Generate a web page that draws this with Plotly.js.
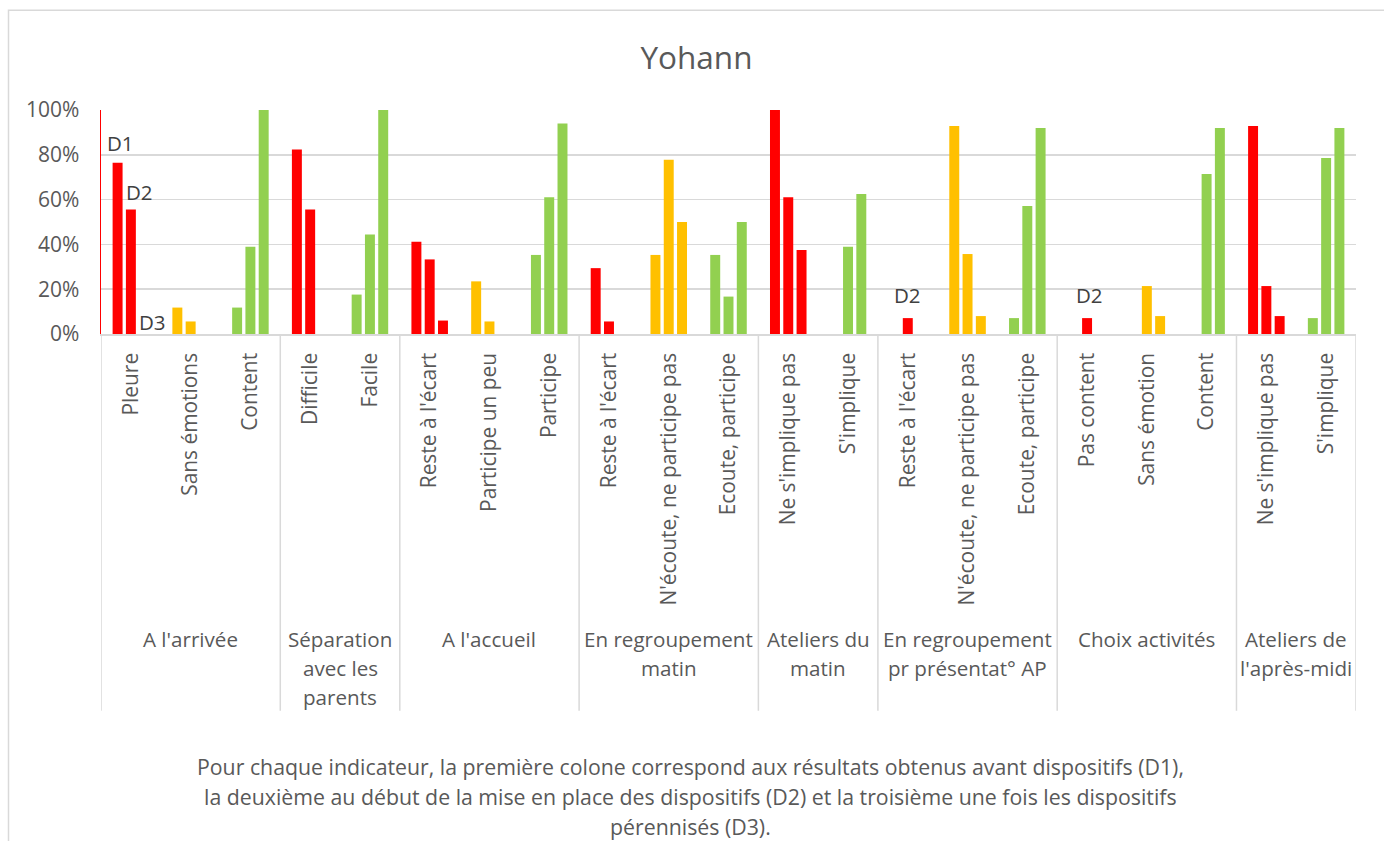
<!DOCTYPE html>
<html><head><meta charset="utf-8">
<script src="https://cdn.plot.ly/plotly-3.0.1.min.js"></script>
<style>html,body{margin:0;padding:0;background:#fff;} #chart{width:1384px;height:841px;}</style>
</head><body><div id="chart"></div>
<script>
// ---- data ----
const subLabels = ["Pleure", "Sans émotions", "Content", "Difficile", "Facile",
  "Reste à l'écart", "Participe un peu", "Participe",
  "Reste à l'écart", "N'écoute, ne participe pas", "Ecoute, participe",
  "Ne s'implique pas", "S'implique",
  "Reste à l'écart", "N'écoute, ne participe pas", "Ecoute, participe",
  "Pas content", "Sans émotion", "Content",
  "Ne s'implique pas", "S'implique"];
const tone = ["neg","mid","pos", "neg","pos", "neg","mid","pos", "neg","mid","pos",
  "neg","pos", "neg","mid","pos", "neg","mid","pos", "neg","pos"];
const groupLines = [["A l'arrivée"], ["Séparation", "avec les", "parents"], ["A l'accueil"],
  ["En regroupement", "matin"], ["Ateliers du", "matin"], ["En regroupement", "pr présentat° AP"],
  ["Choix activités"], ["Ateliers de", "l'après-midi"]];
const groupSizes = [3, 2, 3, 3, 2, 3, 3, 2];
const seriesNames = ["D1", "D2", "D3"];
const d1 = [76.5, 11.8, 11.8, 82.4, 17.6, 41.2, 23.5, 35.3, 29.4, 35.3, 35.3, 100, 0, 0, 92.9, 7.1, 0, 0, 0, 92.9, 7.1];
const d2 = [55.6, 5.6, 38.9, 55.6, 44.4, 33.3, 5.6, 61.1, 5.6, 77.8, 16.7, 61.1, 38.9, 7.1, 35.7, 57.1, 7.1, 21.4, 71.4, 21.4, 78.6];
const d3 = [0, 0, 100, 0, 100, 6, 0, 94, 0, 50, 50, 37.5, 62.5, 0, 8, 92, 0, 8, 92, 8, 92];
const footLines = ["Pour chaque indicateur, la première colone correspond aux résultats obtenus avant dispositifs (D1),",
  "la deuxième au début de la mise en place des dispositifs (D2) et la troisième une fois les dispositifs",
  "pérennisés (D3)."];
// series labels placed on the chart: [series, slot index, value position]
const seriesMarks = [["D1", 0, 85.3], ["D2", 0, 63.5], ["D3", 0, 5.3], ["D2", 13, 17.6], ["D2", 16, 17.6]];

// ---- style ----
const palette = {neg: "#FF0000", mid: "#FFC000", pos: "#92D050"};
const txt = "#595959", grid = "#d9d9d9", FONT = "Open Sans, sans-serif";
const W = 1384, H = 841, L = 101, R = 28, T = 110, B = 506.5;
const plotW = W - L - R, plotH = H - T - B;
const pyp = p => (H - B - p) / plotH;   // pixel y -> paper y
const pxp = p => (p - L) / plotW;        // pixel x -> paper x

const idx = subLabels.map((_, i) => i);
const colors = tone.map(t => palette[t]);
const seriesData = [d1, d2, d3];
const traces = seriesData.map((vals, k) => ({
  type: "bar", name: seriesNames[k], x: idx, y: vals,
  marker: {color: colors, line: {width: 0}}, hoverinfo: "y"
}));

// group boundaries
const bounds = [-0.5];
groupSizes.forEach(s => bounds.push(bounds[bounds.length - 1] + s));
const shapes = bounds.map(b => ({
  type: "line", xref: "x", yref: "paper", x0: b, x1: b, y0: 0, y1: pyp(712),
  line: {color: grid, width: 1.5}
}));
shapes.push({type: "rect", xref: "paper", yref: "paper", x0: pxp(8.5), x1: pxp(1420), y0: pyp(10), y1: pyp(900),
  line: {color: grid, width: 1.5}, fillcolor: "rgba(0,0,0,0)", layer: "below"});

const annotations = [];
const lineY = [640, 669, 698];
groupLines.forEach((lines, g) => {
  const mid = (bounds[g] + bounds[g + 1]) / 2;
  lines.forEach((ln, j) => annotations.push({
    text: ln, xref: "x", yref: "paper", x: mid, y: pyp(lineY[j]),
    xanchor: "center", yanchor: "middle", showarrow: false,
    font: {family: FONT, size: 20.6, color: txt}
  }));
});
const footY = [768, 798, 828];
footLines.forEach((ln, j) => annotations.push({
  text: ln, xref: "paper", yref: "paper", x: pxp(690), y: pyp(footY[j]),
  xanchor: "center", yanchor: "middle", showarrow: false,
  font: {family: FONT, size: 21.3, color: txt}
}));
const markShift = {D1: -10.4, D2: 9, D3: 21.6};
seriesMarks.forEach(([name, slot, yv], i) => annotations.push({
  text: name, xref: "x", yref: "y", x: slot, y: yv,
  xshift: slot === 0 ? markShift[name] : (slot === 16 ? 2.5 : 0),
  xanchor: "center", yanchor: "middle", showarrow: false,
  font: {family: FONT, size: 20.5, color: "#404040"}
}));

const layout = {
  width: W, height: H,
  margin: {l: L, r: R, t: T, b: B, pad: 0},
  paper_bgcolor: "#fff", plot_bgcolor: "#fff",
  title: {text: "Yohann", font: {family: FONT, size: 31.5, color: txt},
    xref: "paper", x: pxp(696.5), xanchor: "center", yref: "container", y: 1 - 58 / H, yanchor: "middle"},
  barmode: "group", bargap: 0.333, bargroupgap: 0.25,
  showlegend: false,
  font: {family: FONT, color: txt, size: 20},
  xaxis: {type: "linear", range: [-0.5, 20.5], tickmode: "array", tickvals: idx, ticktext: subLabels,
    tickangle: -90, showgrid: false, zeroline: false, showline: true, linecolor: grid, linewidth: 1.5,
    ticks: "", ticklabelstandoff: 9, tickfont: {family: FONT, size: 20.9, color: txt}, fixedrange: true},
  yaxis: {range: [0, 100], dtick: 20, ticksuffix: "%", gridcolor: grid, gridwidth: 1.5,
    showline: true, linecolor: "#ff0000", linewidth: 1.5, zeroline: false, ticks: "",
    ticklabelstandoff: 16, tickfont: {family: FONT, size: 21, color: txt}, fixedrange: true},
  shapes: shapes, annotations: annotations
};
Plotly.newPlot("chart", traces, layout, {displayModeBar: false, staticPlot: true});
</script></body></html>
